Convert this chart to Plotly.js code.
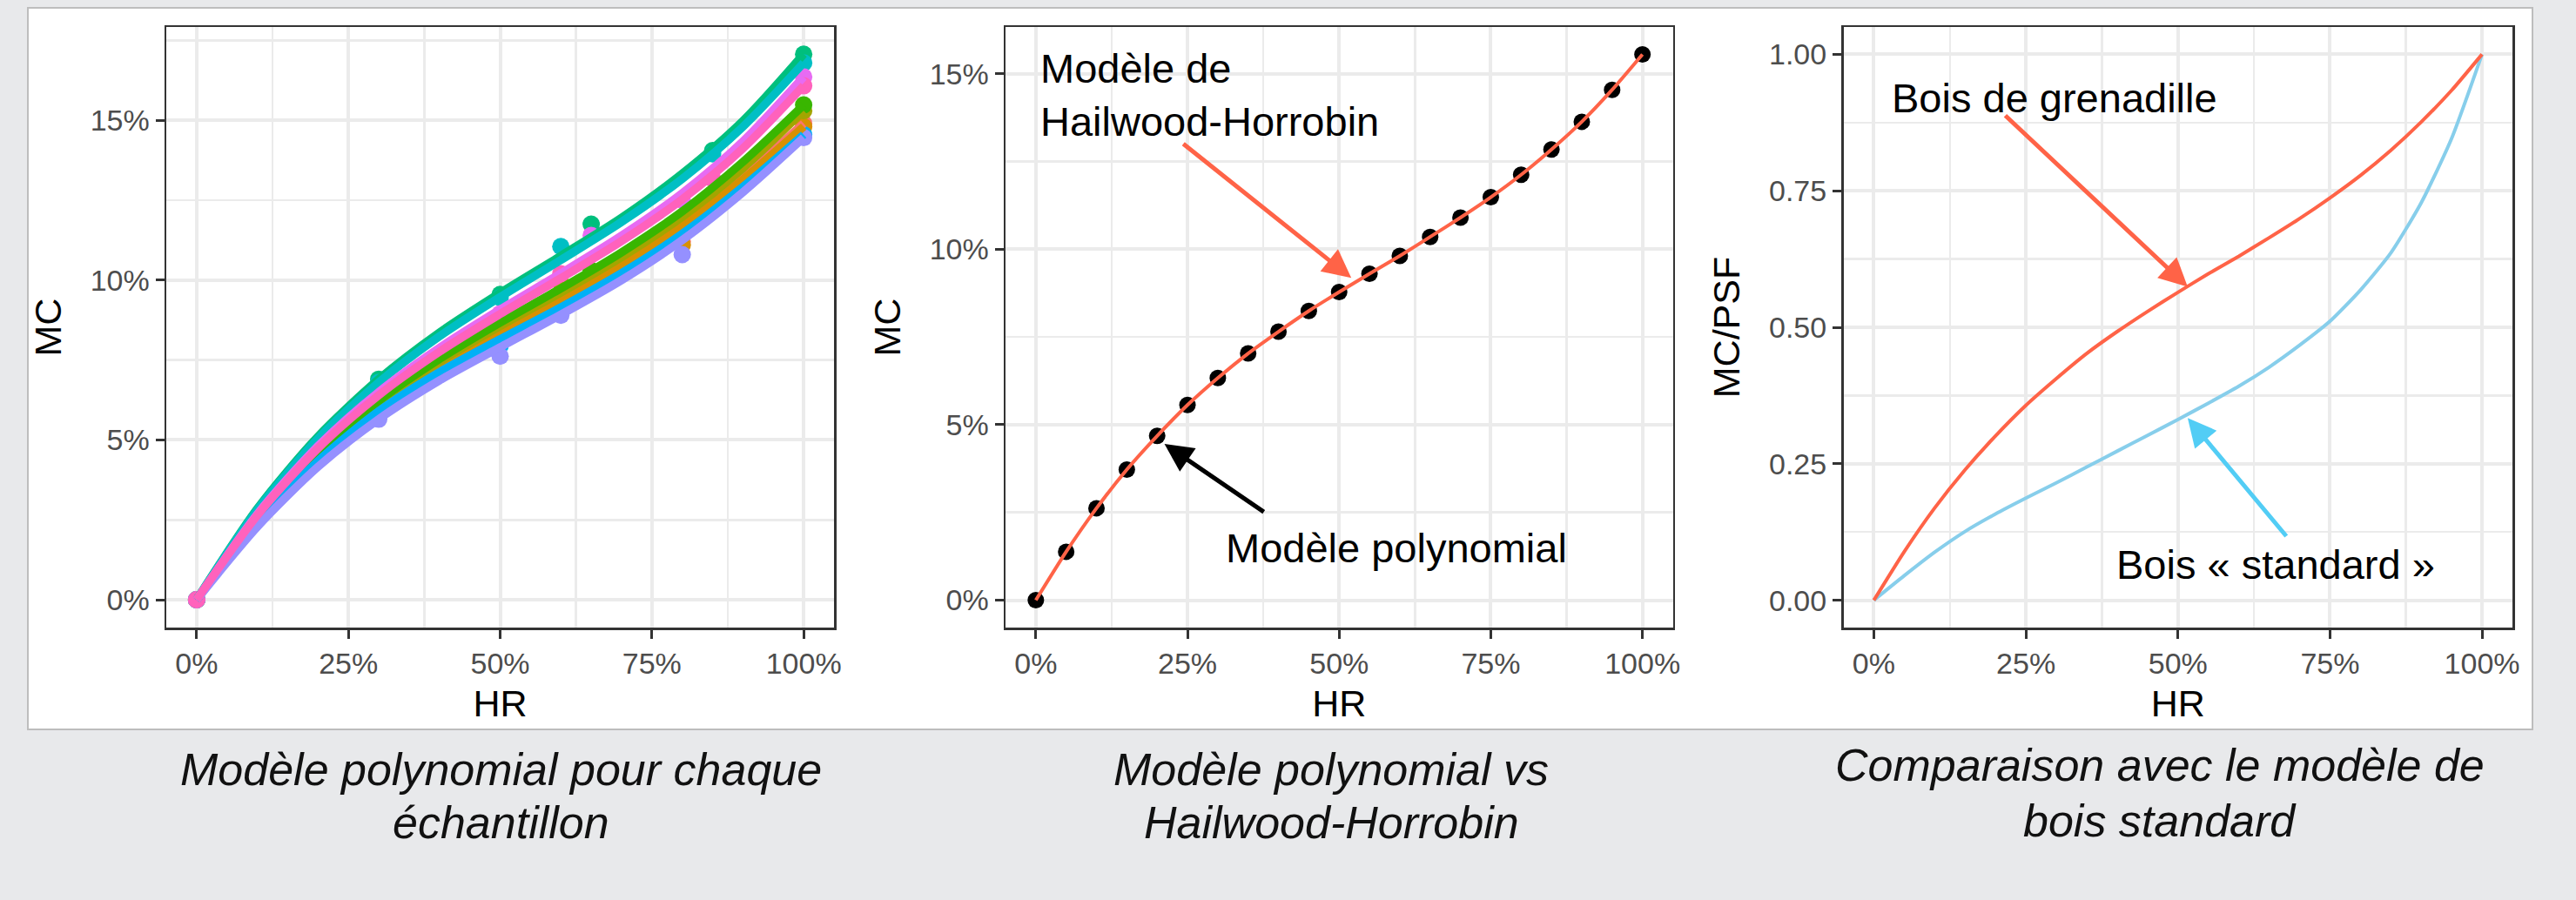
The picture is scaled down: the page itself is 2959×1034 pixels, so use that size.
<!DOCTYPE html>
<html>
<head>
<meta charset="utf-8">
<script src="https://cdn.plot.ly/plotly-3.0.1.min.js"></script>
<style>
html,body{margin:0;padding:0;background:#E8E9EB;}
#chart{width:2959px;height:1034px;}
</style>
</head>
<body>
<div id="chart"></div>
<script>
// ---------- DATA ----------
// Panel 1 : polynomial model for each sample (measured points + fitted curves)
const hrFit = [0, 10, 20, 30, 40, 50, 60, 70, 80, 90, 100];

const s1Hr = [0, 30, 50, 60, 80, 100];
const s1Mc = [0, 6.1, 8.2, 9.5, 11.2, 14.9];
const s1Fit = [0, 2.5, 4.49, 6.06, 7.32, 8.4, 9.42, 10.5, 11.74, 13.23, 14.9];

const s2Hr = [0, 30, 50, 60, 80, 100];
const s2Mc = [0, 6.1, 8.1, 9.45, 11.1, 14.8];
const s2Fit = [0, 2.49, 4.47, 6.03, 7.28, 8.35, 9.37, 10.44, 11.68, 13.15, 14.8];

const s3Hr = [0, 30, 50, 60, 85, 100];
const s3Mc = [0, 6.2, 8.4, 9.9, 12.7, 15.3];
const s3Fit = [0, 2.54, 4.56, 6.15, 7.44, 8.56, 9.61, 10.72, 11.98, 13.5, 15.3];

const s4Hr = [0, 30, 50, 65, 80, 100];
const s4Mc = [0, 6.2, 8.5, 10.3, 11.95, 15.48];
const s4Fit = [0, 2.57, 4.61, 6.22, 7.53, 8.67, 9.74, 10.87, 12.15, 13.7, 15.48];

const s5Hr = [0, 30, 50, 65, 85, 100];
const s5Mc = [0, 6.9, 9.55, 11.75, 14.05, 17.07];
const s5Fit = [0, 2.85, 5.11, 6.9, 8.36, 9.6, 10.76, 11.95, 13.33, 14.98, 17.07];

const s6Hr = [0, 30, 50, 60, 85, 100];
const s6Mc = [0, 6.8, 9.45, 11.05, 13.95, 16.8];
const s6Fit = [0, 2.81, 5.04, 6.8, 8.24, 9.47, 10.63, 11.82, 13.17, 14.8, 16.8];

const s7Hr = [0, 30, 50, 65, 85, 100];
const s7Mc = [0, 6.0, 7.95, 10.1, 12.25, 14.55];
const s7Fit = [0, 2.4, 4.34, 5.9, 7.12, 8.15, 9.15, 10.22, 11.45, 12.92, 14.55];

const s8Hr = [0, 30, 50, 60, 80, 100];
const s8Mc = [0, 5.65, 7.62, 8.9, 10.8, 14.46];
const s8Fit = [0, 2.28, 4.16, 5.65, 6.86, 7.9, 8.92, 10.0, 11.25, 12.75, 14.46];

const s9Hr = [0, 30, 50, 65, 80, 100];
const s9Mc = [0, 6.5, 8.95, 11.4, 12.5, 16.36];
const s9Fit = [0, 2.68, 4.81, 6.5, 7.88, 9.08, 10.21, 11.39, 12.72, 14.34, 16.36];

const s10Hr = [0, 30, 50, 60, 85, 100];
const s10Mc = [0, 6.4, 8.85, 10.2, 13.17, 16.08];
const s10Fit = [0, 2.64, 4.74, 6.4, 7.76, 8.94, 10.06, 11.22, 12.53, 14.12, 16.08];

// Panel 2 : polynomial model vs Hailwood-Horrobin
const hr2 = [0, 5, 10, 15, 20, 25, 30, 35, 40, 45, 50, 55, 60, 65, 70, 75, 80, 85, 90, 95, 100];
const polyMc = [0, 1.38, 2.62, 3.72, 4.68, 5.56, 6.33, 7.03, 7.65, 8.24, 8.78, 9.30, 9.81, 10.35, 10.90, 11.48, 12.12, 12.84, 13.63, 14.54, 15.55];
const hhMc   = [0, 1.38, 2.62, 3.72, 4.68, 5.56, 6.33, 7.03, 7.65, 8.24, 8.78, 9.30, 9.81, 10.35, 10.90, 11.48, 12.12, 12.84, 13.63, 14.54, 15.55];

// Panel 3 : comparison with the standard wood model (MC/PSF)
const hr3 = [0, 5, 10, 15, 20, 25, 30, 35, 40, 45, 50, 55, 60, 65, 70, 75, 80, 85, 90, 95, 100];
const grenadille = [0, 0.089, 0.169, 0.239, 0.301, 0.357, 0.406, 0.452, 0.492, 0.529, 0.564, 0.598, 0.630, 0.664, 0.699, 0.737, 0.778, 0.824, 0.876, 0.934, 1.0];
const standard   = [0, 0.045, 0.088, 0.126, 0.158, 0.187, 0.215, 0.244, 0.273, 0.302, 0.331, 0.361, 0.392, 0.427, 0.467, 0.511, 0.568, 0.636, 0.728, 0.846, 1.0];

const xTicks = [0, 25, 50, 75, 100];
const xTickText = ['0%', '25%', '50%', '75%', '100%'];
const yTicks1 = [0, 5, 10, 15];
const yTickText1 = ['0%', '5%', '10%', '15%'];
const yTicks3 = [0, 0.25, 0.5, 0.75, 1.0];
const yTickText3 = ['0.00', '0.25', '0.50', '0.75', '1.00'];

const captions = [
  ['Modèle polynomial pour chaque', 'échantillon'],
  ['Modèle polynomial vs', 'Hailwood-Horrobin'],
  ['Comparaison avec le modèle de', 'bois standard']
];

// ---------- STYLE / LAYOUT ----------
const W = 2959, H = 1034;
const fx = p => p / W;
const fy = p => 1 - p / H;
const FONT = 'Liberation Sans, Arial, Helvetica, sans-serif';

const samples = [
  {hr: s1Hr, mc: s1Mc, fit: s1Fit, color: '#F8766D'},
  {hr: s2Hr, mc: s2Mc, fit: s2Fit, color: '#D89000'},
  {hr: s3Hr, mc: s3Mc, fit: s3Fit, color: '#A3A500'},
  {hr: s4Hr, mc: s4Mc, fit: s4Fit, color: '#39B600'},
  {hr: s5Hr, mc: s5Mc, fit: s5Fit, color: '#00BF7D'},
  {hr: s6Hr, mc: s6Mc, fit: s6Fit, color: '#00BFC4'},
  {hr: s7Hr, mc: s7Mc, fit: s7Fit, color: '#00B0F6'},
  {hr: s8Hr, mc: s8Mc, fit: s8Fit, color: '#9590FF'},
  {hr: s9Hr, mc: s9Mc, fit: s9Fit, color: '#E76BF3'},
  {hr: s10Hr, mc: s10Mc, fit: s10Fit, color: '#FF62BC'}
];

const traces = [];
samples.forEach((s, i) => {
  traces.push({x: s.hr, y: s.mc, type: 'scatter', mode: 'markers', xaxis: 'x', yaxis: 'y',
    name: 'Échantillon ' + (i + 1), showlegend: false,
    marker: {color: s.color, size: 20}, cliponaxis: false});
});
samples.forEach((s, i) => {
  traces.push({x: hrFit, y: s.fit, type: 'scatter', mode: 'lines', xaxis: 'x', yaxis: 'y',
    name: 'Modèle ' + (i + 1), showlegend: false,
    line: {color: s.color, width: 9.5, shape: 'spline', smoothing: 0.8}});
});
traces.push({x: hr2, y: polyMc, type: 'scatter', mode: 'markers', xaxis: 'x2', yaxis: 'y2',
  name: 'Modèle polynomial', showlegend: false, marker: {color: '#000000', size: 19}});
traces.push({x: hr2, y: hhMc, type: 'scatter', mode: 'lines', xaxis: 'x2', yaxis: 'y2',
  name: 'Hailwood-Horrobin', showlegend: false,
  line: {color: '#FF6347', width: 4, shape: 'spline', smoothing: 0.6}});
traces.push({x: hr3, y: standard, type: 'scatter', mode: 'lines', xaxis: 'x3', yaxis: 'y3',
  name: 'Bois « standard »', showlegend: false,
  line: {color: '#87CEEB', width: 4, shape: 'spline', smoothing: 0.6}});
traces.push({x: hr3, y: grenadille, type: 'scatter', mode: 'lines', xaxis: 'x3', yaxis: 'y3',
  name: 'Bois de grenadille', showlegend: false,
  line: {color: '#FF6347', width: 4, shape: 'spline', smoothing: 0.6}});

const yDom = [fy(721), fy(31)];
function xAxis(dom, anchor) {
  return {
    domain: dom, anchor: anchor, range: [-5, 105],
    tickvals: xTicks, ticktext: xTickText,
    showgrid: true, gridcolor: '#EBEBEB', gridwidth: 4,
    minor: {dtick: 12.5, tick0: 12.5, showgrid: true, gridcolor: '#EBEBEB', gridwidth: 2.5},
    zeroline: false, showline: true, mirror: true, linecolor: '#333333', linewidth: 2.5,
    ticks: 'outside', ticklen: 10, tickwidth: 3, tickcolor: '#333333',
    tickfont: {family: FONT, size: 34, color: '#4D4D4D'},
    title: {text: 'HR', font: {family: FONT, size: 43, color: '#000000'}, standoff: 13},
    fixedrange: true
  };
}
function yAxis(anchor, range, tv, tt, minorStep, title) {
  return {
    domain: yDom, anchor: anchor, range: range,
    tickvals: tv, ticktext: tt,
    showgrid: true, gridcolor: '#EBEBEB', gridwidth: 4,
    minor: {dtick: minorStep, tick0: minorStep / 2, showgrid: true, gridcolor: '#EBEBEB', gridwidth: 2.5},
    zeroline: false, showline: true, mirror: true, linecolor: '#333333', linewidth: 2.5,
    ticks: 'outside', ticklen: 10, tickwidth: 3, tickcolor: '#333333',
    tickfont: {family: FONT, size: 34, color: '#4D4D4D'},
    title: {text: title, font: {family: FONT, size: 43, color: '#000000'}, standoff: 20},
    fixedrange: true
  };
}

const annFont = {family: FONT, size: 47, color: '#000000'};
const annotations = [
  {xref: 'x2', yref: 'y2', x: 0.4, y: 14.4, xanchor: 'left', yanchor: 'middle', align: 'left',
   text: 'Modèle de<br>Hailwood-Horrobin', showarrow: false, font: annFont},
  {xref: 'x2', yref: 'y2', x: 31.0, y: 1.5, xanchor: 'left', yanchor: 'middle',
   text: 'Modèle polynomial', showarrow: false, font: annFont},
  {xref: 'x2', yref: 'y2', axref: 'x2', ayref: 'y2', x: 52.0, y: 9.18, ax: 24.1, ay: 13.03,
   text: '', showarrow: true, arrowhead: 2, arrowsize: 1.3, arrowwidth: 5, arrowcolor: '#FF6347'},
  {xref: 'x2', yref: 'y2', axref: 'x2', ayref: 'y2', x: 21.2, y: 4.45, ax: 37.8, ay: 2.49,
   text: '', showarrow: true, arrowhead: 2, arrowsize: 1.3, arrowwidth: 5, arrowcolor: '#000000'},
  {xref: 'x3', yref: 'y3', x: 2.6, y: 0.92, xanchor: 'left', yanchor: 'middle',
   text: 'Bois de grenadille', showarrow: false, font: annFont},
  {xref: 'x3', yref: 'y3', x: 39.6, y: 0.065, xanchor: 'left', yanchor: 'middle',
   text: 'Bois « standard »', showarrow: false, font: annFont},
  {xref: 'x3', yref: 'y3', axref: 'x3', ayref: 'y3', x: 51.6, y: 0.574, ax: 21.4, ay: 0.89,
   text: '', showarrow: true, arrowhead: 2, arrowsize: 1.3, arrowwidth: 5, arrowcolor: '#FF6347'},
  {xref: 'x3', yref: 'y3', axref: 'x3', ayref: 'y3', x: 51.6, y: 0.334, ax: 68.0, ay: 0.115,
   text: '', showarrow: true, arrowhead: 2, arrowsize: 1.3, arrowwidth: 5, arrowcolor: '#52CDF5'}
];

const capCenters = [575, 1529, 2481];
const capLineY = [[884, 945], [884, 945], [879, 943]];
const capFont = {family: FONT, size: 52, color: '#111111'};
captions.forEach((lines, i) => {
  lines.forEach((t, j) => {
    annotations.push({xref: 'paper', yref: 'paper', x: fx(capCenters[i]), y: fy(capLineY[i][j]),
      xanchor: 'center', yanchor: 'middle', text: '<i>' + t + '</i>', showarrow: false, font: capFont});
  });
});

const layout = {
  width: W, height: H,
  margin: {l: 0, r: 0, t: 0, b: 0, pad: 0},
  paper_bgcolor: '#E8E9EB', plot_bgcolor: '#FFFFFF',
  showlegend: false,
  font: {family: FONT},
  xaxis: xAxis([fx(191), fx(958)], 'y'),
  yaxis: yAxis('x', [-0.87, 17.92], yTicks1, yTickText1, 5, 'MC'),
  xaxis2: xAxis([fx(1155), fx(1921.5)], 'y2'),
  yaxis2: yAxis('x2', [-0.78, 16.33], yTicks1, yTickText1, 5, 'MC'),
  xaxis3: xAxis([fx(2117.5), fx(2886)], 'y3'),
  yaxis3: yAxis('x3', [-0.05, 1.05], yTicks3, yTickText3, 0.25, 'MC/PSF'),
  shapes: [
    {type: 'rect', xref: 'paper', yref: 'paper', x0: fx(32), x1: fx(2909), y0: fy(838), y1: fy(9),
     fillcolor: '#FFFFFF', line: {color: '#BDBDBD', width: 2}, layer: 'below'}
  ],
  annotations: annotations
};

Plotly.newPlot('chart', traces, layout, {staticPlot: true, displayModeBar: false});
</script>
</body>
</html>
